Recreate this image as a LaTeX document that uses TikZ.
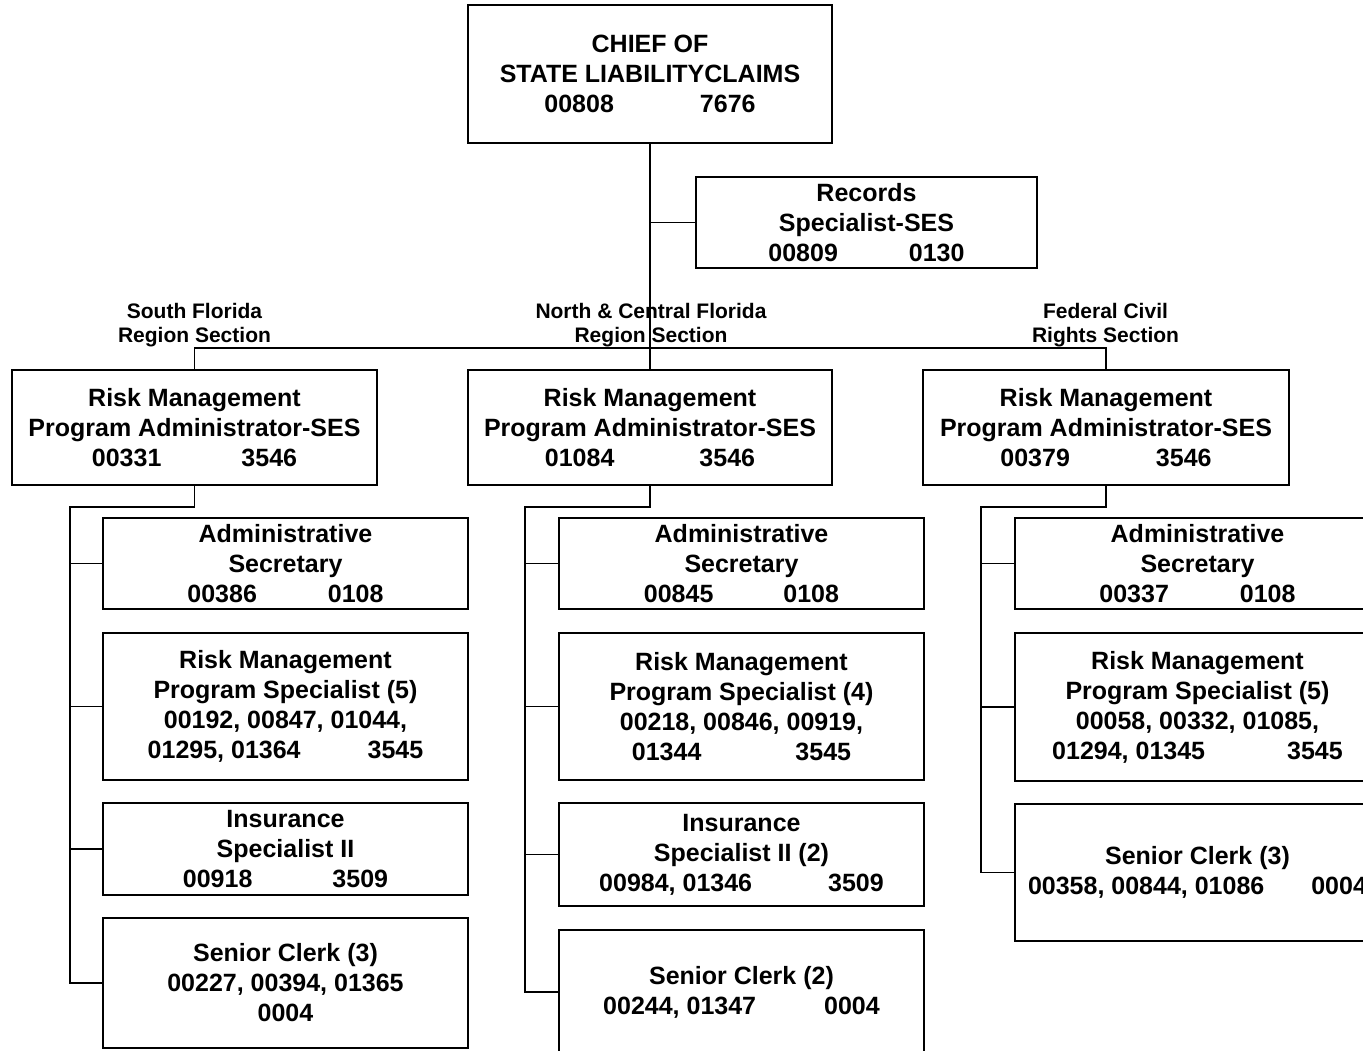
\documentclass[tikz,border=0pt]{standalone}
\usepackage{fontspec}
\setmainfont{Liberation Sans}
\begin{document}
\begin{tikzpicture}[x=1pt,y=-1pt,
  every node/.style={inner sep=0pt, outer sep=0pt},
  post/.style={draw, line width=1.4pt, align=center,
    font=\bfseries\fontsize{25}{30}\selectfont},
  chiefbox/.style={post, line width=2.8pt},
  section/.style={align=center, font=\bfseries\fontsize{21}{24}\selectfont},
  link/.style={line width=1.6pt}]
\useasboundingbox[fill=white] (0,0) rectangle (1363,1050);

% top of the chart
\node[chiefbox, minimum width=364, minimum height=138] (chief) at (650,74)
  {CHIEF OF\\STATE LIABILITYCLAIMS\\00808\hspace{86pt}7676};
\node[post, minimum width=341, minimum height=91] (rec) at (866.5,222.5)
  {Records\\Specialist-SES\\00809\hspace{71pt}0130};

% section heads
\node[post, minimum width=365, minimum height=115] (sfl) at (194.5,427.5)
  {Risk Management\\Program Administrator-SES\\00331\hspace{80pt}3546};
\node[post, minimum width=364, minimum height=115] (ncf) at (650,427.5)
  {Risk Management\\Program Administrator-SES\\01084\hspace{85pt}3546};
\node[post, minimum width=366, minimum height=115] (fcr) at (1106,427.5)
  {Risk Management\\Program Administrator-SES\\00379\hspace{86pt}3546};

% section labels
\node[section] (lblS) at (194.5,325) {South Florida\\Region Section};
\node[section] (lblN) at (651,325) {North \& Central Florida\\Region Section};
\node[section] (lblF) at (1105.5,325) {Federal Civil\\Rights Section};

% South Florida staff
\node[post, minimum width=365, minimum height=91] (lsec) at (285.5,563.5)
  {Administrative\\Secretary\\00386\hspace{71pt}0108};
\node[post, minimum width=365, minimum height=147] (lrmps) at (285.5,706.5)
  {Risk Management\\Program Specialist (5)\\00192, 00847, 01044,\\01295, 01364\hspace{67pt}3545};
\node[post, minimum width=365, minimum height=92] (lins) at (285.5,849)
  {Insurance\\Specialist II\\00918\hspace{80pt}3509};
\node[post, minimum width=365, minimum height=130] (lclk) at (285.5,983)
  {Senior Clerk (3)\\00227, 00394, 01365\\0004};

% North & Central Florida staff
\node[post, minimum width=365, minimum height=91] (msec) at (741.5,563.5)
  {Administrative\\Secretary\\00845\hspace{70pt}0108};
\node[post, minimum width=365, minimum height=147] (mrmps) at (741.5,706.5)
  {Risk Management\\Program Specialist (4)\\00218, 00846, 00919,\\01344\hspace{94pt}3545};
\node[post, minimum width=365, minimum height=103] (mins) at (741.5,854.5)
  {Insurance\\Specialist II (2)\\00984, 01346\hspace{76pt}3509};
\node[post, minimum width=365, minimum height=124] (mclk) at (741.5,992)
  {Senior Clerk (2)\\00244, 01347\hspace{68pt}0004};

% Federal Civil Rights staff
\node[post, minimum width=365, minimum height=91] (rsec) at (1197.5,563.5)
  {Administrative\\Secretary\\00337\hspace{71pt}0108};
\node[post, minimum width=365, minimum height=148] (rrmps) at (1197.5,707)
  {Risk Management\\Program Specialist (5)\\00058, 00332, 01085,\\01294, 01345\hspace{82pt}3545};
\node[post, minimum width=365, minimum height=137] (rclk) at (1197.5,872.5)
  {Senior Clerk (3)\\00358, 00844, 01086\hspace{47pt}0004};

% reporting lines
\coordinate (bus) at (650,348);
\draw[link] (chief.south) -- (ncf.north);
\draw[link] (chief.south |- rec.west) -- (rec.west);
\draw[link] (sfl.north) |- (bus) -| (fcr.north);

\coordinate (lturn) at (70,507);
\coordinate (mturn) at (525,507);
\coordinate (rturn) at (981,507);
\draw[link] (sfl.south) |- (lturn) |- (lclk.west);
\draw[link] (ncf.south) |- (mturn) |- (mclk.west);
\draw[link] (fcr.south) |- (rturn) |- (rclk.west);
\foreach \n in {lsec,lrmps,lins}
  \draw[link] (lturn |- \n.west) -- (\n.west);
\foreach \n in {msec,mrmps,mins}
  \draw[link] (mturn |- \n.west) -- (\n.west);
\foreach \n in {rsec,rrmps}
  \draw[link] (rturn |- \n.west) -- (\n.west);
\end{tikzpicture}
\end{document}
